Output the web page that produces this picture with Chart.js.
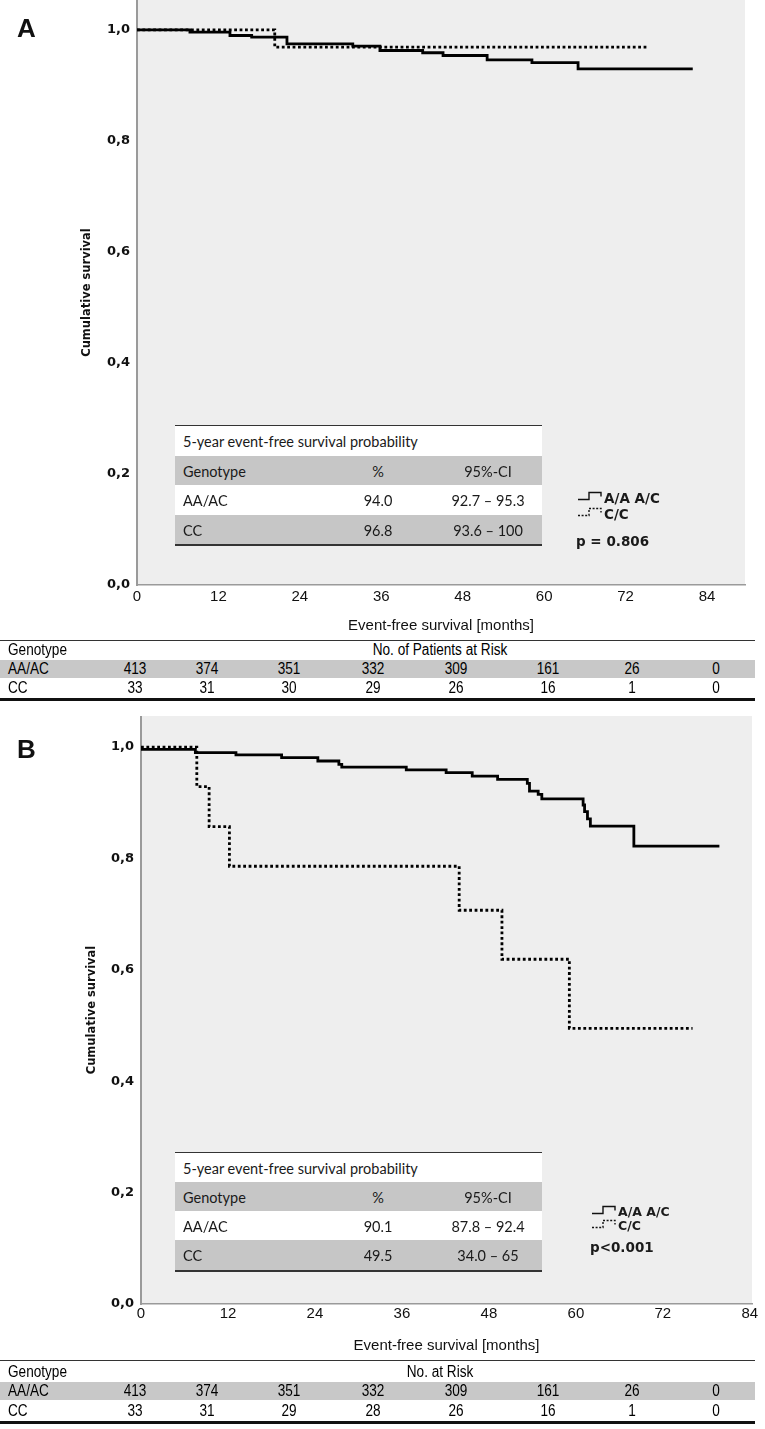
<!DOCTYPE html>
<html>
<head>
<meta charset="utf-8">
<script src="https://cdn.jsdelivr.net/npm/chart.js@4.4.1/dist/chart.umd.min.js"></script>
<style>
  body { margin: 0; width: 765px; height: 1429px; position: relative; background: #fff; overflow: hidden;
         font-family: 'Liberation Sans', Arial, sans-serif; color: #111; }
  canvas { position: absolute; left: 0; }
  .plab { position: absolute; left: 17px; font: bold 26px/30px 'Liberation Sans', Arial, sans-serif; }
  .inset { position: absolute; left: 175px; width: 367px; background: #fff; color: #1a1a1a;
           font: 14.5px Lato, 'Open Sans', sans-serif; border-top: 1.5px solid #333; border-bottom: 2px solid #333; }
  .inset .row { position: relative; }
  .inset .grey { background: #c6c6c6; }
  .inset span { position: absolute; top: 50%; transform: translateY(-50%); white-space: nowrap; }
  .inset .c1 { left: 8px; }
  .inset .c2 { left: 163px; width: 80px; text-align: center; }
  .inset .c3 { left: 253px; width: 120px; text-align: center; }
  .leg { position: absolute; font-family: 'DejaVu Sans', Verdana, sans-serif; font-weight: bold; color: #1a1a1a; white-space: nowrap; }
  .risk { position: absolute; left: 0; width: 755px; border-top: 1.5px solid #333; border-bottom: 3px solid #111;
          font: 16px 'Liberation Sans', Arial, sans-serif; color: #000; }
  .risk .row { position: relative; }
  .risk .grey { background: #c8c8c8; }
  .risk span { position: absolute; top: 50%; transform: translateY(-50%) scaleX(0.85); transform-origin: left center; white-space: nowrap; }
  .risk span.num, .risk span.mid { transform-origin: center center; text-align: center; }
  .risk .num { width: 60px; }
</style>
</head>
<body>
<canvas id="chartA" width="765" height="640" style="top:0"></canvas>
<canvas id="chartB" width="765" height="645" style="top:716px"></canvas>
<div class="plab" style="top:13px">A</div>
<div class="plab" style="top:734px">B</div>
<div id="overlay"></div>

<script>
// axis ticks
const xTicks = [0, 12, 24, 36, 48, 60, 72, 84];
const yTicks = [0, 0.2, 0.4, 0.6, 0.8, 1.0];
const yTickLabels = ['0,0', '0,2', '0,4', '0,6', '0,8', '1,0'];

// panel A - Kaplan-Meier steps (months, survival)
const monthsA_AA = [0, 7.8, 13.7, 16.9, 22.1, 31.8, 35.8, 42.1, 45.1, 51.6, 58.2, 65.0, 81.9];
const survA_AA   = [1, 0.996, 0.990, 0.987, 0.975, 0.971, 0.963, 0.959, 0.954, 0.946, 0.941, 0.930, 0.930];
const monthsA_CC = [0, 20.3, 75.2];
const survA_CC   = [1, 0.969, 0.969];

// panel B
const monthsB_AA = [0, 7.5, 13.1, 19.4, 24.4, 27.3, 27.7, 36.6, 42.1, 45.7, 49.2, 53.3, 53.6, 54.8, 55.3, 61.0, 61.2, 61.6, 62.0, 68.0, 79.8];
const survB_AA   = [0.996, 0.990, 0.986, 0.981, 0.975, 0.969, 0.964, 0.959, 0.954, 0.948, 0.942, 0.935, 0.921, 0.915, 0.907, 0.896, 0.884, 0.871, 0.858, 0.822, 0.822];
const monthsB_CC = [0, 7.7, 9.4, 12.2, 43.9, 49.8, 59.1, 76.1];
const survB_CC   = [1, 0.929, 0.857, 0.786, 0.707, 0.619, 0.495, 0.495];

// inset tables
const insetHeader = ['Genotype', '%', '95%-CI'];
const genotypes = ['AA/AC', 'CC'];
const pctA = ['94.0', '96.8'];
const ciA  = ['92.7 \u2013 95.3', '93.6 \u2013 100'];
const pctB = ['90.1', '49.5'];
const ciB  = ['87.8 \u2013 92.4', '34.0 \u2013 65'];

// numbers at risk
const riskA_AA = [413, 374, 351, 332, 309, 161, 26, 0];
const riskA_CC = [33, 31, 30, 29, 26, 16, 1, 0];
const riskB_AA = [413, 374, 351, 332, 309, 161, 26, 0];
const riskB_CC = [33, 31, 29, 28, 26, 16, 1, 0];
const riskX = [135, 207, 289, 373, 456, 548, 632, 716];

const plotBg = {
  id: 'plotBg',
  beforeDraw(chart) {
    const { ctx, chartArea: a } = chart;
    ctx.save();
    ctx.fillStyle = '#eeeeee';
    ctx.fillRect(a.left, a.top, a.right - a.left, a.bottom - a.top);
    ctx.restore();
  }
};

function kmPoints(months, surv) {
  return months.map((m, i) => ({ x: m, y: surv[i] }));
}

function noPad(s) {
  s.paddingTop = 0; s.paddingBottom = 0; s.paddingLeft = 0; s.paddingRight = 0;
}

function makeKM(id, o) {
  return new Chart(document.getElementById(id), {
    type: 'line',
    data: {
      datasets: [
        { data: kmPoints(o.aaX, o.aaY), stepped: true, borderColor: '#000', borderWidth: 2.8, pointRadius: 0, fill: false },
        { data: kmPoints(o.ccX, o.ccY), stepped: true, borderColor: '#000', borderWidth: 2.8, borderDash: [2.8, 2.6], pointRadius: 0, fill: false }
      ]
    },
    options: {
      responsive: false,
      animation: false,
      devicePixelRatio: 1,
      layout: { padding: { left: o.padLeft, right: o.padRight, top: 0, bottom: 0 } },
      plugins: { legend: { display: false }, tooltip: { enabled: false } },
      scales: {
        x: {
          type: 'linear', min: 0, max: o.xMax,
          afterBuildTicks: s => { s.ticks = xTicks.map(v => ({ value: v })); },
          afterFit: s => { s.height = o.xHeight; noPad(s); },
          grid: { display: false, drawTicks: false },
          border: { display: true, color: '#9a9a9a', width: 1.5 },
          ticks: { autoSkip: false, maxRotation: 0, padding: o.xTickPad, color: '#111',
                   font: { family: "'Liberation Sans', Arial, sans-serif", size: 15, lineHeight: 1.2 } },
          title: { display: true, text: 'Event-free survival [months]', color: '#111',
                   font: { family: "'Liberation Sans', Arial, sans-serif", size: 15, lineHeight: 1.2 },
                   padding: { top: 0, bottom: o.xTitlePad } }
        },
        y: {
          type: 'linear', min: 0, max: o.yMax,
          afterBuildTicks: s => { s.ticks = yTicks.map(v => ({ value: v })); },
          afterFit: s => { s.width = o.yWidth; noPad(s); },
          grid: { display: false, drawTicks: false },
          border: { display: true, color: '#9a9a9a', width: 2 },
          ticks: { padding: 7, color: '#111',
                   callback: v => yTickLabels[yTicks.findIndex(t => Math.abs(t - v) < 1e-6)],
                   font: { family: "'DejaVu Sans', Verdana, sans-serif", size: 13, weight: 'bold' } },
          title: { display: true, text: 'Cumulative survival', color: '#111',
                   font: { family: "'DejaVu Sans', Verdana, sans-serif", size: 11.5, weight: 'bold', lineHeight: 1.2 },
                   padding: { top: 4, bottom: 0 } }
        }
      }
    },
    plugins: [plotBg]
  });
}

makeKM('chartA', { aaX: monthsA_AA, aaY: survA_AA, ccX: monthsA_CC, ccY: survA_CC,
  padLeft: 76, padRight: 20, yWidth: 61, xHeight: 55, xMax: 89.6, yMax: 1.054, xTickPad: 3, xTitlePad: 5 });
makeKM('chartB', { aaX: monthsB_AA, aaY: survB_AA, ccX: monthsB_CC, ccY: survB_CC,
  padLeft: 81, padRight: 13, yWidth: 60, xHeight: 57, xMax: 84.3, yMax: 1.0558, xTickPad: 1, xTitlePad: 6 });

// ---- overlays: inset tables, legends, risk tables ----
function insetTable(top, rowH, pct, ci) {
  let html = `<div class="inset" style="top:${top}px">`;
  html += `<div class="row" style="height:${rowH[0]}px"><span class="c1">5-year event-free survival probability</span></div>`;
  html += `<div class="row grey" style="height:${rowH[1]}px"><span class="c1">${insetHeader[0]}</span><span class="c2">${insetHeader[1]}</span><span class="c3">${insetHeader[2]}</span></div>`;
  genotypes.forEach((g, i) => {
    html += `<div class="row${i % 2 ? ' grey' : ''}" style="height:${rowH[i + 2]}px"><span class="c1">${g}</span><span class="c2">${pct[i]}</span><span class="c3">${ci[i]}</span></div>`;
  });
  return html + '</div>';
}

function glyph(left, top, dashed) {
  const dash = dashed ? 'stroke-dasharray="2 1.6"' : '';
  return `<svg class="leg" style="left:${left}px;top:${top}px" width="26" height="12">
    <path d="M0,9.5 H11 V2.5 H23 V6.5" fill="none" stroke="#111" stroke-width="1.4" ${dash}/></svg>`;
}

function legend(x, y1, y2, py, size, pText) {
  return glyph(x, y1 - 8, false) + glyph(x, y2 - 8, true) +
    `<div class="leg" style="left:${x + 26}px;top:${y1 - 9}px;font-size:${size}px;line-height:18px">A/A A/C</div>` +
    `<div class="leg" style="left:${x + 26}px;top:${y2 - 9}px;font-size:${size}px;line-height:18px">C/C</div>` +
    `<div class="leg" style="left:${x - 2}px;top:${py - 10}px;font-size:13.5px;line-height:20px">${pText}</div>`;
}

function riskTable(top, heights, title, aa, cc) {
  const nums = arr => arr.map((n, i) => `<span class="num" style="left:${riskX[i] - 30}px">${n}</span>`).join('');
  return `<div class="risk" style="top:${top}px">
    <div class="row" style="height:${heights[0]}px"><span style="left:8px">Genotype</span><span class="mid" style="left:340px;width:200px">${title}</span></div>
    <div class="row grey" style="height:${heights[1]}px"><span style="left:8px">${genotypes[0]}</span>${nums(aa)}</div>
    <div class="row" style="height:${heights[2]}px"><span style="left:8px">${genotypes[1]}</span>${nums(cc)}</div>
  </div>`;
}

document.getElementById('overlay').innerHTML =
  insetTable(425, [30, 29, 30, 29], pctA, ciA) +
  insetTable(1152, [29, 29, 29, 30], pctB, ciB) +
  legend(578, 498, 514, 541, 13.5, 'p = 0.806') +
  legend(592, 1212, 1226, 1247, 12.5, 'p&lt;0.001') +
  riskTable(640, [18.5, 18, 20], 'No. of Patients at Risk', riskA_AA, riskA_CC) +
  riskTable(1360, [21, 18, 21], 'No. at Risk', riskB_AA, riskB_CC);
</script>
</body>
</html>
